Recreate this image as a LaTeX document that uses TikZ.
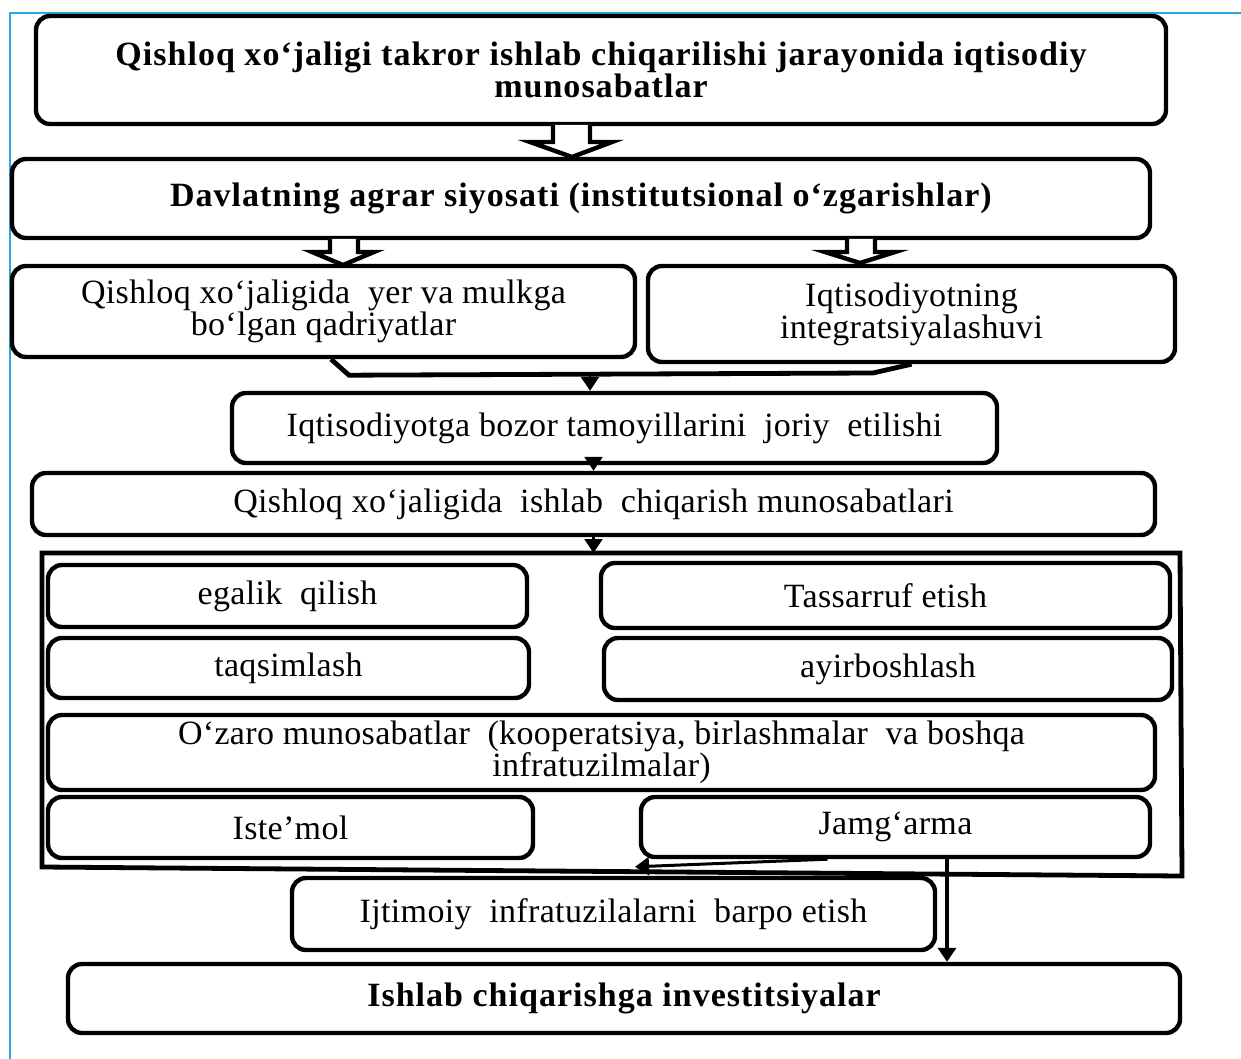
\documentclass[tikz,border=0pt]{standalone}
\usepackage{fontspec}
\setmainfont{Liberation Serif}
\usetikzlibrary{arrows.meta}
\definecolor{chegara}{RGB}{40,170,225}

\tikzset{
  blok/.style={draw, line width=2.2pt, rounded corners=7pt, align=center, inner sep=1pt},
  qalin/.style={font=\fontsize{17}{16}\selectfont\bfseries\addfontfeature{LetterSpace=3}},
  oddiy/.style={font=\fontsize{17}{16}\selectfont\addfontfeature{LetterSpace=1}},
  kovak/.style={line width=2.2pt, fill=white, line join=miter},
  chiziq/.style={line width=2.4pt},
  strelka/.style={line width=1.2pt, -{Triangle[length=7pt,width=9pt]}},
}

\begin{document}
\begin{tikzpicture}[x=0.5pt, y=-0.5pt]
\useasboundingbox (0,0) rectangle (1241,1059);
\draw[line width=1.2pt, chegara] (10,1059)--(10,13)--(1241,13);

% yuqori qism
\node[blok,qalin,minimum width=565pt,minimum height=54pt] (bosh) at (601,70)
  {Qishloq xo‘jaligi takror ishlab chiqarilishi jarayonida iqtisodiy\\munosabatlar};
\node[blok,qalin,minimum width=569pt,minimum height=39.5pt] (davlat) at (581,198.5)
  {Davlatning agrar siyosati (institutsional o‘zgarishlar)};
\node[blok,oddiy,minimum width=311.5pt,minimum height=45.5pt] (yer) at (323.5,311.5)
  {Qishloq xo‘jaligida\ \ yer va mulkga\\bo‘lgan qadriyatlar};
\node[blok,oddiy,minimum width=263.5pt,minimum height=48pt] (integr) at (911.5,314)
  {Iqtisodiyotning\\integratsiyalashuvi};
\node[blok,oddiy,minimum width=382.5pt,minimum height=35pt] (bozor) at (614.5,428)
  {Iqtisodiyotga bozor tamoyillarini\ \ joriy\ \ etilishi};
\node[blok,oddiy,minimum width=561.5pt,minimum height=31pt] (munos) at (593.5,504)
  {Qishloq xo‘jaligida\ \ ishlab\ \ chiqarish munosabatlari};

% ichki bloklar
\node[blok,oddiy,minimum width=239.5pt,minimum height=31pt] (egalik) at (287.5,596) {egalik\ \ qilish};
\node[blok,oddiy,minimum width=284.5pt,minimum height=32.5pt] (tasarruf) at (885.5,595.5) {Tassarruf etish};
\node[blok,oddiy,minimum width=240.5pt,minimum height=30pt] (taqsim) at (288.5,668) {taqsimlash};
\node[blok,oddiy,minimum width=284pt,minimum height=31pt] (ayir) at (888,669) {ayirboshlash};
\node[blok,oddiy,minimum width=553.5pt,minimum height=37.5pt] (ozaro) at (601.5,752.5)
  {O‘zaro munosabatlar\ \ (kooperatsiya, birlashmalar\ \ va boshqa\\infratuzilmalar)};
\node[blok,oddiy,minimum width=242.5pt,minimum height=30.5pt] (istemol) at (290.5,827.5) {Iste’mol};
\node[blok,oddiy,minimum width=254.5pt,minimum height=30pt] (jamgarma) at (895.5,827) {Jamg‘arma};

% pastki qism
\node[blok,oddiy,minimum width=321.5pt,minimum height=36pt] (ijtimoiy) at (613.5,914)
  {Ijtimoiy\ \ infratuzilalarni\ \ barpo etish};
\node[blok,qalin,minimum width=556pt,minimum height=34.5pt] (invest) at (624,998.5)
  {Ishlab chiqarishga investitsiyalar};

% kovak strelkalar
\draw[kovak] (553,125)--(553,142)--(530,142)--(572,157)--(612,142)--(590,142)--(590,125);
\draw[kovak] (330,239)--(330,252)--(312,252)--(343,265)--(374,252)--(358,252)--(358,239);
\draw[kovak] (847,239)--(847,252)--(825,252)--(860,263)--(895,252)--(875,252)--(875,239);

% ulanishlar
\draw[chiziq] ([xshift=3.75pt]yer.south) -- ++(18,16) -- (873,373) -- (integr.south);
\coordinate (tut) at (590,373);
\draw[strelka] (tut) -- (tut |- bozor.north);
\draw[strelka] (bozor.south -| munos.north) -- (munos.north);
\coordinate (r1) at (42,553);
\draw[strelka] (munos.south) -- (munos.south |- r1);
\draw[chiziq, line join=miter] (r1) -- (1180,553) -- (1182,876) -- (42,867) -- cycle;
\draw[strelka, line width=1.5pt] ([xshift=-34pt]jamgarma.south) -- ([xshift=10.75pt,yshift=4.5pt]ijtimoiy.north);
\coordinate (jq) at ([xshift=25.75pt]jamgarma.south);
\draw[strelka, line width=1.8pt] (jq) -- (jq |- invest.north);
\end{tikzpicture}
\end{document}
